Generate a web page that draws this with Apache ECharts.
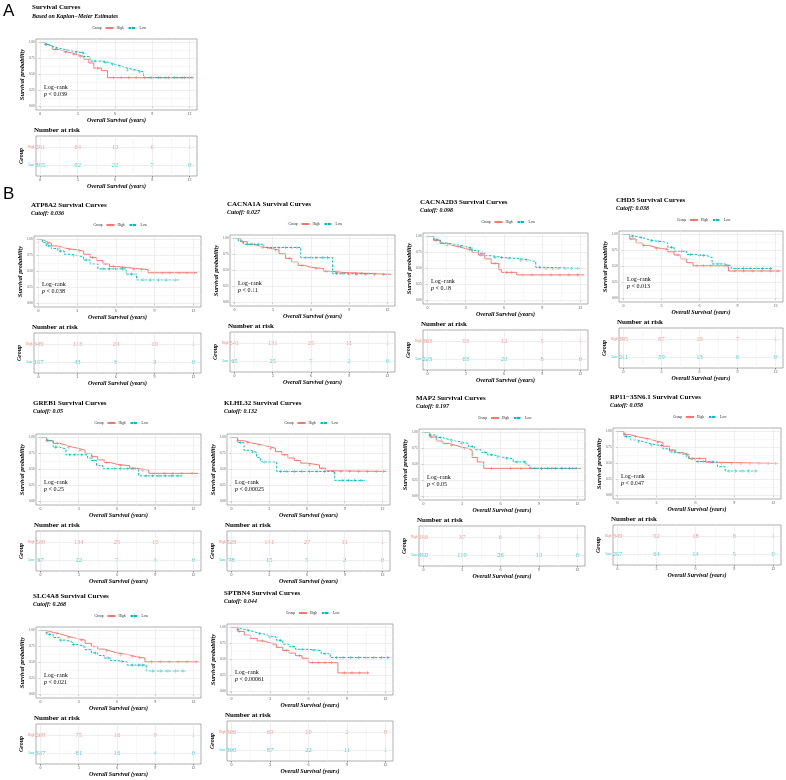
<!DOCTYPE html>
<html><head><meta charset="utf-8">
<script src="https://cdn.jsdelivr.net/npm/echarts@6/dist/echarts.min.js"></script>
<style>html,body{margin:0;padding:0;background:#fff}#c{width:786px;height:780px}</style>
</head><body><div id="c"></div>
<script>
// ---------------- DATA ----------------
const riskTimes = [0, 3, 6, 9, 12];
const xTicks = [0, 3, 6, 9, 12];
const yTicks = [0, 0.25, 0.5, 0.75, 1];
const groupNames = ['High', 'Low'];

const genes   = ['', 'ATP8A2', 'CACNA1A', 'CACNA2D3', 'CHD5', 'GREB1', 'KLHL32', 'MAP2', 'RP11\u221235N6.1', 'SLC4A8', 'SPTBN4'];
const cutoffs = ['', '0.036', '0.027', '0.098', '0.038', '0.05', '0.132', '0.197', '0.058', '0.268', '0.044'];
const pvals   = ['0.039', '0.038', '0.11', '0.18', '0.013', '0.25', '0.00025', '0.05', '0.047', '0.021', '0.00061'];

// KM step knots [time (years), survival]
const A_high = [[0,1],[0.3,0.97],[0.6,0.94],[1,0.89],[1.5,0.86],[2,0.84],[2.5,0.81],[3,0.78],[3.5,0.74],[3.9,0.68],[4.3,0.6],[4.9,0.56],[5.4,0.45],[12.3,0.45]];
const A_low  = [[0,1],[0.3,0.97],[0.6,0.94],[1,0.91],[1.5,0.89],[2,0.87],[2.5,0.85],[3,0.84],[3.5,0.78],[4,0.71],[5,0.69],[5.5,0.66],[6,0.63],[6.5,0.6],[7,0.57],[7.7,0.54],[8.3,0.45],[12.1,0.45]];
const ATP8A2_high = [[0,1],[0.3,0.97],[0.6,0.94],[1,0.9],[1.5,0.87],[2,0.85],[2.5,0.84],[3,0.82],[3.5,0.77],[4,0.72],[4.5,0.67],[5,0.62],[5.5,0.58],[6,0.56],[6.9,0.53],[8.5,0.48],[12.3,0.48]];
const ATP8A2_low  = [[0,1],[0.3,0.95],[0.6,0.9],[1,0.86],[1.5,0.82],[2,0.77],[2.5,0.75],[3,0.73],[3.5,0.68],[4,0.62],[4.6,0.54],[6.8,0.46],[7.6,0.37],[10.9,0.37]];
const CACNA1A_high = [[0,1],[0.5,0.95],[1,0.91],[1.5,0.88],[2,0.86],[2.5,0.84],[3,0.82],[3.5,0.76],[4,0.69],[4.5,0.63],[5,0.58],[5.5,0.55],[6,0.53],[7,0.49],[7.5,0.47],[8.5,0.44],[12.3,0.44]];
const CACNA1A_low  = [[0,1],[0.3,0.96],[0.7,0.91],[2.3,0.86],[5.2,0.7],[7.7,0.45],[10.8,0.45]];
const CACNA2D3_high = [[0,1],[0.5,0.94],[1,0.89],[1.5,0.86],[2,0.84],[2.5,0.81],[3,0.79],[3.5,0.75],[4,0.71],[4.5,0.65],[5,0.58],[5.6,0.48],[5.8,0.44],[7,0.4],[12.3,0.4]];
const CACNA2D3_low  = [[0,1],[0.5,0.95],[1,0.9],[1.5,0.88],[2,0.87],[2.5,0.84],[3,0.82],[3.5,0.78],[4,0.74],[4.5,0.7],[5,0.67],[6,0.66],[7,0.63],[8,0.61],[8.5,0.52],[9,0.5],[12,0.5]];
const CHD5_high = [[0,1],[0.5,0.93],[1,0.87],[1.5,0.83],[2,0.8],[2.5,0.78],[3,0.77],[3.5,0.73],[4,0.68],[4.5,0.62],[5,0.56],[5.5,0.51],[8.3,0.43],[12.4,0.43]];
const CHD5_low  = [[0,1],[0.5,0.97],[1,0.95],[1.5,0.92],[2,0.9],[2.5,0.89],[3,0.87],[3.5,0.8],[4,0.74],[5,0.69],[5.6,0.67],[6.6,0.64],[7,0.54],[8,0.51],[8.5,0.47],[11.8,0.47]];
const GREB1_high = [[0,1],[0.5,0.95],[1,0.91],[1.5,0.88],[2,0.85],[2.5,0.83],[3,0.8],[3.5,0.75],[4,0.7],[4.5,0.65],[5,0.61],[5.5,0.58],[6,0.56],[7,0.52],[7.5,0.49],[8.5,0.44],[12.4,0.44]];
const GREB1_low  = [[0,1],[0.5,0.95],[1,0.85],[1.5,0.82],[2,0.73],[3.7,0.68],[4,0.64],[4.4,0.56],[4.9,0.51],[7.7,0.4],[11.2,0.4]];
const KLHL32_high = [[0,1],[0.5,0.95],[1,0.92],[1.5,0.9],[2,0.88],[2.5,0.86],[3,0.83],[3.5,0.78],[4,0.73],[4.5,0.68],[5,0.64],[5.5,0.6],[6,0.57],[7,0.52],[7.5,0.48],[7.8,0.47],[12.3,0.47]];
const KLHL32_low  = [[0,1],[0.5,0.92],[1,0.8],[1.5,0.77],[2,0.69],[2.3,0.62],[3.6,0.47],[8.2,0.33],[10.7,0.33]];
const MAP2_high = [[0,1],[0.5,0.93],[1,0.87],[1.5,0.83],[2,0.8],[2.5,0.77],[3,0.75],[3.5,0.72],[3.8,0.61],[4.2,0.54],[4.7,0.44],[12.3,0.44]];
const MAP2_low  = [[0,1],[0.5,0.96],[1,0.92],[1.5,0.89],[2,0.87],[2.5,0.85],[3,0.83],[3.5,0.78],[4,0.73],[4.5,0.69],[5,0.65],[5.5,0.62],[6,0.59],[7,0.54],[8,0.49],[8.3,0.44],[12,0.44]];
const RP11_high = [[0,1],[0.5,0.95],[1,0.92],[1.5,0.9],[2,0.88],[2.5,0.85],[3,0.83],[3.5,0.77],[4,0.71],[4.5,0.67],[5,0.64],[5.5,0.58],[6.8,0.52],[7.6,0.5],[12.3,0.5]];
const RP11_low  = [[0,1],[0.5,0.92],[1,0.87],[1.5,0.84],[2,0.81],[2.5,0.79],[3,0.78],[3.5,0.73],[4,0.68],[4.5,0.65],[5,0.62],[5.5,0.57],[6,0.53],[7,0.52],[7.7,0.45],[8.3,0.38],[10.8,0.38]];
const SLC4A8_high = [[0,1],[0.5,0.97],[1,0.95],[1.5,0.92],[2,0.89],[2.5,0.87],[3,0.85],[3.5,0.8],[4,0.75],[4.5,0.71],[5,0.68],[5.5,0.65],[6,0.62],[7,0.59],[7.5,0.57],[8.2,0.51],[12.4,0.51]];
const SLC4A8_low  = [[0,1],[0.5,0.94],[1,0.89],[1.5,0.85],[2,0.82],[2.5,0.78],[3,0.75],[3.5,0.7],[4,0.65],[4.5,0.61],[5,0.57],[5.5,0.53],[6,0.51],[6.8,0.46],[8.3,0.37],[11.4,0.37]];
const SPTBN4_high = [[0,1],[0.5,0.94],[1,0.88],[1.5,0.83],[2,0.79],[2.5,0.76],[3,0.74],[3.5,0.69],[4,0.64],[4.5,0.6],[5,0.56],[5.5,0.52],[6,0.45],[8.3,0.29],[10.7,0.29]];
const SPTBN4_low  = [[0,1],[0.5,0.97],[1,0.95],[1.5,0.92],[2,0.9],[2.5,0.87],[3,0.85],[3.5,0.8],[4,0.74],[4.5,0.7],[5,0.66],[6,0.64],[7,0.59],[7.7,0.53],[12.3,0.53]];

// censoring times (years)
const A_highC = [0.4,1.2,2.0,2.7,3.2,4.6,5.9,6.5,7.1,7.7,8.4,9.0,9.7,10.3,11.0,11.6,12.2];
const A_lowC  = [0.5,1.3,2.1,2.9,3.4,4.4,5.2,5.8,6.4,7.0,7.5,8.0,8.9,9.5,10.1,10.8,11.4,12.0];
const ATP8A2_highC = [0.7,1.6,2.4,3.2,4.2,5.2,5.8,6.5,7.4,8.0,9.0,9.6,10.2,10.9,11.5,12.1];
const ATP8A2_lowC  = [0.8,1.7,2.7,3.7,5.0,5.5,6.0,6.5,7.2,8.1,8.7,9.3,9.9,10.6];
const CACNA1A_highC = [0.6,1.4,2.2,3.2,4.3,5.3,6.4,7.2,8.0,9.0,9.6,10.3,11.0,11.7];
const CACNA1A_lowC  = [1.0,1.3,1.6,1.9,2.6,3.0,3.5,4.0,4.5,4.9,5.6,6.0,6.4,6.9,7.3,8.0,8.5,9.0,9.5,10.0,10.5];
const CACNA2D3_highC = [0.6,1.5,2.4,3.3,4.2,5.3,6.2,6.6,7.5,8.2,9.0,9.7,10.4,11.1,11.8];
const CACNA2D3_lowC  = [0.7,1.6,2.6,3.4,4.3,5.3,5.8,6.4,7.3,7.8,8.8,9.3,9.8,10.3,10.8,11.3,11.8];
const CHD5_highC = [0.6,1.6,2.6,3.4,4.3,5.8,6.3,6.9,7.5,8.0,8.8,9.5,10.2,10.9,11.6,12.2];
const CHD5_lowC  = [0.7,1.4,2.2,2.8,3.8,4.6,5.3,6.0,6.3,7.5,8.2,9.0,9.5,10.0,10.5,11.0,11.6];
const GREB1_highC = [0.5,1.3,2.2,3.1,4.1,5.2,6.3,7.2,8.0,9.0,9.7,10.4,11.1,11.9];
const GREB1_lowC  = [0.6,1.2,2.3,2.7,3.2,4.2,5.3,5.8,6.3,6.8,7.3,8.3,8.8,9.3,9.8,10.3,10.8];
const KLHL32_highC = [0.5,1.3,2.2,3.1,4.2,5.2,6.2,7.2,8.1,8.7,9.4,10.1,10.8,11.5,12.1];
const KLHL32_lowC  = [0.7,1.7,2.6,3.0,3.9,4.4,5.0,5.6,6.2,6.8,7.4,8.8,9.3,9.8,10.3];
const MAP2_highC = [0.6,1.4,2.2,3.2,5.3,6.0,6.8,7.6,8.4,9.2,10.0,10.8,11.6];
const MAP2_lowC  = [0.5,1.3,2.2,3.0,3.8,4.8,5.3,5.8,6.5,7.3,7.9,8.7,9.2,9.7,10.3,10.8,11.4,11.9];
const RP11_highC = [0.6,1.4,2.3,3.1,4.2,5.3,5.8,6.3,7.2,8.0,8.8,9.5,10.2,10.9,11.6,12.2];
const RP11_lowC  = [0.7,1.6,2.6,3.4,4.4,5.3,6.2,6.6,7.3,8.6,9.1,9.6,10.1,10.6];
const SLC4A8_highC = [0.5,1.3,2.2,3.2,4.2,5.2,6.3,7.2,7.8,8.7,9.4,10.1,10.8,11.5,12.2];
const SLC4A8_lowC  = [0.7,1.6,2.6,3.4,4.3,5.3,6.4,7.2,7.7,8.0,8.8,9.4,10.0,10.6,11.2];
const SPTBN4_highC = [0.6,1.5,2.4,3.3,4.3,5.3,6.3,6.8,7.3,7.8,8.8,9.4,10.0,10.6];
const SPTBN4_lowC  = [0.5,1.3,2.2,3.0,3.8,4.8,5.5,6.4,7.3,8.2,8.7,9.3,9.9,10.5,11.1,11.7,12.2];

// numbers at risk at riskTimes
const A_riskHigh = [251,64,10,6,1],        A_riskLow = [355,92,22,7,0];
const ATP8A2_riskHigh = [449,113,24,10,1], ATP8A2_riskLow = [157,43,8,3,0];
const CACNA1A_riskHigh = [541,131,25,11,1], CACNA1A_riskLow = [65,25,7,2,0];
const CACNA2D3_riskHigh = [383,93,12,5,1], CACNA2D3_riskLow = [223,63,20,8,0];
const CHD5_riskHigh = [395,97,19,7,1],     CHD5_riskLow = [211,59,13,6,0];
const GREB1_riskHigh = [539,134,25,10,1],  GREB1_riskLow = [67,22,7,3,0];
const KLHL32_riskHigh = [528,141,27,11,1], KLHL32_riskLow = [78,15,5,2,0];
const MAP2_riskHigh = [156,37,6,3,1],      MAP2_riskLow = [450,119,26,10,0];
const RP11_riskHigh = [349,92,18,8,1],     RP11_riskLow = [257,64,14,5,0];
const SLC4A8_riskHigh = [269,75,16,9,1],   SLC4A8_riskLow = [337,81,16,4,0];
const SPTBN4_riskHigh = [306,69,10,2,0],   SPTBN4_riskLow = [300,87,22,11,1];

const curvesHigh = [A_high, ATP8A2_high, CACNA1A_high, CACNA2D3_high, CHD5_high, GREB1_high, KLHL32_high, MAP2_high, RP11_high, SLC4A8_high, SPTBN4_high];
const curvesLow  = [A_low, ATP8A2_low, CACNA1A_low, CACNA2D3_low, CHD5_low, GREB1_low, KLHL32_low, MAP2_low, RP11_low, SLC4A8_low, SPTBN4_low];
const censHigh = [A_highC, ATP8A2_highC, CACNA1A_highC, CACNA2D3_highC, CHD5_highC, GREB1_highC, KLHL32_highC, MAP2_highC, RP11_highC, SLC4A8_highC, SPTBN4_highC];
const censLow  = [A_lowC, ATP8A2_lowC, CACNA1A_lowC, CACNA2D3_lowC, CHD5_lowC, GREB1_lowC, KLHL32_lowC, MAP2_lowC, RP11_lowC, SLC4A8_lowC, SPTBN4_lowC];
const riskHigh = [A_riskHigh, ATP8A2_riskHigh, CACNA1A_riskHigh, CACNA2D3_riskHigh, CHD5_riskHigh, GREB1_riskHigh, KLHL32_riskHigh, MAP2_riskHigh, RP11_riskHigh, SLC4A8_riskHigh, SPTBN4_riskHigh];
const riskLow  = [A_riskLow, ATP8A2_riskLow, CACNA1A_riskLow, CACNA2D3_riskLow, CHD5_riskLow, GREB1_riskLow, KLHL32_riskLow, MAP2_riskLow, RP11_riskLow, SLC4A8_riskLow, SPTBN4_riskLow];

// ---------------- LAYOUT / STYLE ----------------
// [plotLeft, plotRight, titleCenterY]
const layout = [[36,197,8],[34,201,205],[230,395,204],[423,588,202],[619,783,200],[36,201,403],[227,390,403],[419,585,398],[613,781,397],[36,201,596],[227,393,593]];
const RED = '#F8766D', TEAL = '#00BFC4';
const FONT = 'Liberation Serif';
const GRID_MAJOR = '#e3e3e3', GRID_MINOR = '#f1f1f1';

function km(curve, t) { let s = curve[0][1]; for (const [ct, cs] of curve) { if (ct <= t) s = cs; else break; } return s; }

const option = { animation: false, backgroundColor: '#fff', grid: [], xAxis: [], yAxis: [], series: [], legend: [], graphic: [] };
const PLUS = 'path://M4,0H6V4H10V6H6V10H4V6H0V4H4Z';

function txt(x, y, text, size, opts) {
  option.graphic.push(Object.assign({ type: 'text', x: x, y: y, silent: true,
    style: Object.assign({ text: text, fontSize: size, fontFamily: FONT, fill: '#000', verticalAlign: 'middle', align: 'left' }, opts || {}) }));
}
function xAxisCfg(gi) {
  return { type: 'value', gridIndex: gi, min: -0.35, max: 12.6,
    axisLine: { show: false }, splitLine: { show: false },
    axisTick: { show: true, customValues: xTicks, length: 1.5, lineStyle: { color: '#333', width: 0.5 } },
    axisLabel: { customValues: xTicks, fontSize: 4, color: '#4d4d4d', margin: 1.5, fontFamily: FONT },
    name: 'Overall Survival (years)', nameLocation: 'middle', nameGap: 7.5,
    nameTextStyle: { fontFamily: FONT, fontSize: 6, fontWeight: 'bold', fontStyle: 'italic', color: '#000' } };
}
function gridLines(xs, ys, xm, ym) {
  const d = [];
  xm.forEach(v => d.push({ xAxis: v, lineStyle: { color: GRID_MINOR, width: 0.5, type: 'solid' } }));
  ym.forEach(v => d.push({ yAxis: v, lineStyle: { color: GRID_MINOR, width: 0.5, type: 'solid' } }));
  xs.forEach(v => d.push({ xAxis: v, lineStyle: { color: GRID_MAJOR, width: 0.6, type: 'solid' } }));
  ys.forEach(v => d.push({ yAxis: v, lineStyle: { color: GRID_MAJOR, width: 0.6, type: 'solid' } }));
  return { silent: true, symbol: ['none', 'none'], label: { show: false }, animation: false, data: d };
}

txt(3, 11, 'A', 17, { fontFamily: 'Liberation Sans' });
txt(3, 194, 'B', 17, { fontFamily: 'Liberation Sans' });

curvesHigh.forEach((_, i) => {
  const [L, R, T] = layout[i];
  const W = R - L, cx = (L + R) / 2;
  const plotTop = T + 31, plotH = 71, tabTop = T + 128, tabH = 40;
  const gi = option.grid.length;
  option.grid.push({ left: L, top: plotTop, width: W, height: plotH, show: true, borderColor: '#7a7a7a', borderWidth: 0.6, backgroundColor: '#fff' });
  option.grid.push({ left: L, top: tabTop, width: W, height: tabH, show: true, borderColor: '#7a7a7a', borderWidth: 0.6, backgroundColor: '#fff' });
  option.xAxis.push(xAxisCfg(gi), xAxisCfg(gi + 1));
  option.yAxis.push({ type: 'value', gridIndex: gi, min: -0.055, max: 1.055,
    axisLine: { show: false }, splitLine: { show: false },
    axisTick: { show: true, customValues: yTicks, length: 1.5, lineStyle: { color: '#333', width: 0.5 } },
    axisLabel: { customValues: yTicks, fontSize: 3.2, color: '#4d4d4d', margin: 1.5, fontFamily: FONT, formatter: v => v.toFixed(2) },
    name: 'Survival probability', nameLocation: 'middle', nameGap: 11, nameRotate: 90,
    nameTextStyle: { fontFamily: FONT, fontSize: 6.3, fontWeight: 'bold', fontStyle: 'italic', color: '#000' } });
  option.yAxis.push({ type: 'value', gridIndex: gi + 1, min: 0.4, max: 2.6,
    axisLine: { show: false }, splitLine: { show: false },
    axisTick: { show: true, customValues: [1, 2], length: 1.5, lineStyle: { color: '#333', width: 0.5 } },
    axisLabel: { customValues: [1, 2], margin: 1.5, formatter: v => v === 2 ? '{h|' + groupNames[0] + '}' : '{l|' + groupNames[1] + '}',
      rich: { h: { color: RED, fontSize: 3.3, fontFamily: FONT }, l: { color: TEAL, fontSize: 3.3, fontFamily: FONT } } },
    name: 'Group', nameLocation: 'middle', nameGap: 11, nameRotate: 90,
    nameTextStyle: { fontFamily: FONT, fontSize: 6, fontWeight: 'bold', fontStyle: 'italic', color: '#000' } });

  // gridlines
  option.series.push({ type: 'line', name: 'grid' + i, xAxisIndex: gi, yAxisIndex: gi, data: [], z: 1, silent: true,
    markLine: gridLines(xTicks, yTicks, [1.5, 4.5, 7.5, 10.5], [0.125, 0.375, 0.625, 0.875]) });
  option.series.push({ type: 'line', name: 'tgrid' + i, xAxisIndex: gi + 1, yAxisIndex: gi + 1, data: [], z: 1, silent: true,
    markLine: gridLines(xTicks, [1, 2], [1.5, 4.5, 7.5, 10.5], []) });

  // curves
  option.series.push({ type: 'line', name: 'High', xAxisIndex: gi, yAxisIndex: gi, step: 'end', data: curvesHigh[i],
    showSymbol: false, symbol: 'none', z: 3, itemStyle: { color: RED }, lineStyle: { color: RED, width: 1 } });
  option.series.push({ type: 'line', name: 'Low', xAxisIndex: gi, yAxisIndex: gi, step: 'end', data: curvesLow[i],
    showSymbol: false, symbol: 'none', z: 3, itemStyle: { color: TEAL }, lineStyle: { color: TEAL, width: 1, type: [2.5, 1.5] } });
  option.series.push({ type: 'scatter', name: 'High censor', xAxisIndex: gi, yAxisIndex: gi, symbol: PLUS, symbolSize: 3.2, z: 4,
    data: censHigh[i].map(t => [t, km(curvesHigh[i], t)]), itemStyle: { color: RED } });
  option.series.push({ type: 'scatter', name: 'Low censor', xAxisIndex: gi, yAxisIndex: gi, symbol: PLUS, symbolSize: 3.2, z: 4,
    data: censLow[i].map(t => [t, km(curvesLow[i], t)]), itemStyle: { color: TEAL } });

  // risk table numbers
  [[riskHigh[i], 2, RED], [riskLow[i], 1, TEAL]].forEach(([arr, row, col]) => {
    option.series.push({ type: 'scatter', name: 'risk' + row, xAxisIndex: gi + 1, yAxisIndex: gi + 1, symbolSize: 1, z: 4,
      itemStyle: { color: 'rgba(0,0,0,0)' },
      data: riskTimes.map((t, k) => [t, row, arr[k]]),
      label: { show: true, position: 'inside', formatter: p => String(p.value[2]), color: col, fontSize: 6.5, fontFamily: FONT } });
  });

  // legend
  option.legend.push({ data: groupNames, left: cx - 12, top: T + 18, itemWidth: 8, itemHeight: 3, itemGap: 4, padding: 0,
    textStyle: { fontSize: 3.5, fontFamily: FONT, color: '#222', padding: [0, 0, 0, -2] } });
  txt(cx - 24, T + 20, 'Group', 3.5, { fill: '#222' });

  // titles
  if (i === 0) {
    txt(L - 4, T - 0.5, 'Survival Curves', 7, { fontWeight: 'bold' });
    txt(L - 4, T + 8, 'Based on Kaplan\u2212Meier Estimates', 6, { fontWeight: 'bold', fontStyle: 'italic' });
  } else {
    txt(L - 3, T, genes[i] + ' Survival Curves', 7, { fontWeight: 'bold' });
    txt(L - 3, T + 8, 'Cutoff: ' + cutoffs[i], 6, { fontWeight: 'bold', fontStyle: 'italic' });
  }
  // log-rank
  txt(L + 8, plotTop + 48, 'Log\u2212rank', 6);
  txt(L + 8, plotTop + 55, '{i|p} < ' + pvals[i], 6, { rich: { i: { fontStyle: 'italic', fontSize: 6, fontFamily: FONT } } });
  // number at risk
  txt(L - 2, T + 122, 'Number at risk', 7, { fontWeight: 'bold' });
});

const chart = echarts.init(document.getElementById('c'), null, { renderer: 'canvas' });
chart.setOption(option);
</script>
</body></html>
